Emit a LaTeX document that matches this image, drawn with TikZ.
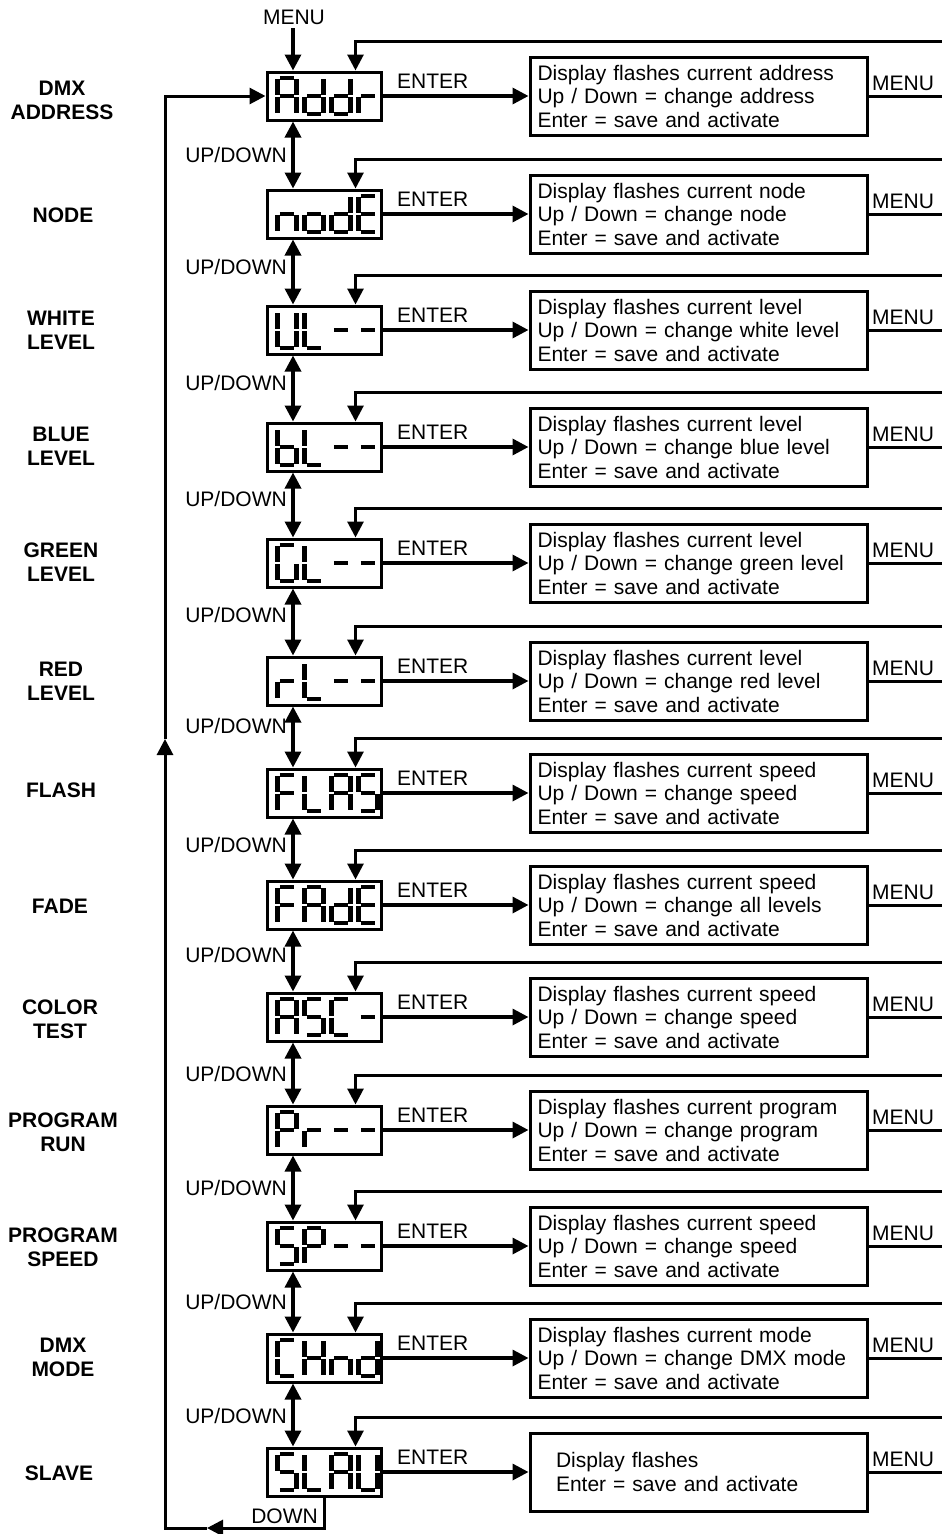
\documentclass[tikz,border=0pt]{standalone}
\usepackage{fontspec}
\setmainfont{Liberation Sans}
\usetikzlibrary{arrows.meta,calc}
\tikzset{
  arr/.style={line width=3.4pt,-{Triangle[length=16pt,width=16pt]}},
  dblarr/.style={line width=3.4pt,{Triangle[length=16pt,width=16pt]}-{Triangle[length=16pt,width=16pt]}},
  thinarr/.style={line width=3pt,-{Triangle[length=16pt,width=16pt]}},
  wire/.style={line width=3pt},
  disp/.style={draw,line width=3pt,minimum width=114pt,minimum height=48pt,inner sep=0pt},
  info/.style={draw,line width=3pt,minimum height=78pt,text width=322pt,inner xsep=7.5pt,align=left,font=\fontsize{21}{23.5}\selectfont},
  infob/.style={draw,line width=3pt,minimum height=78pt,text width=285pt,inner xsep=26pt,align=left,font=\fontsize{21}{23.5}\selectfont},
  lbl/.style={font=\fontsize{21}{24}\selectfont,inner sep=0pt},
  side/.style={font=\fontsize{21}{24}\selectfont\bfseries,inner sep=0pt,align=center},
  lcd/.style={line width=4.2pt,line cap=butt},
}
\def\lcdsega{(2.4,0) -- (16.6,0)}
\def\lcdsegb{(19,1.2) -- (19,17.2)}
\def\lcdsegc{(19,18.8) -- (19,34.8)}
\def\lcdsegd{(2.4,36) -- (16.6,36)}
\def\lcdsege{(0,18.8) -- (0,34.8)}
\def\lcdsegf{(0,1.2) -- (0,17.2)}
\def\lcdsegg{(2.4,18) -- (16.6,18)}
\newcommand\lcdchar[3]{%
  \foreach \s in {#3}{\draw[lcd,shift={($(#1.north west)+(12+27*#2,7.5)$)}] \csname lcdseg\s\endcsname;}}
\newcommand\lcdword[5]{\lcdchar{#1}{0}{#2}\lcdchar{#1}{1}{#3}\lcdchar{#1}{2}{#4}\lcdchar{#1}{3}{#5}}
\newcommand\menurow[4]{%
  \node[disp] (d#1) at (324,#2) {};
  \node[#3] (i#1) at (698.5,#2) {#4};
  \draw[arr] (d#1.east) -- (d#1.east -| i#1.west);
  \node[lbl,anchor=base west] (e#1) at (397,#2-8) {ENTER};
  \coordinate (ret#1) at (942,#2-55);
  \draw[thinarr] (ret#1) -| ([xshift=90pt]d#1.north west);
  \coordinate (me#1) at (942,#2);
  \draw[wire] (i#1.east) -- (me#1);
  \node[lbl,anchor=base west] (m#1) at (872,#2-6) {MENU};
}
\begin{document}
\begin{tikzpicture}[x=1pt,y=-1pt]
\useasboundingbox (0,0) rectangle (942,1534);
\coordinate (mx) at (293,0);
\coordinate (dx) at (324,0);

\menurow{1}{96}{info}{Display flashes current address\\Up / Down = change address\\Enter = save and activate}
\menurow{2}{214}{info}{Display flashes current node\\Up / Down = change node\\Enter = save and activate}
\menurow{3}{330}{info}{Display flashes current level\\Up / Down = change white level\\Enter = save and activate}
\menurow{4}{447}{info}{Display flashes current level\\Up / Down = change blue level\\Enter = save and activate}
\menurow{5}{563}{info}{Display flashes current level\\Up / Down = change green level\\Enter = save and activate}
\menurow{6}{681}{info}{Display flashes current level\\Up / Down = change red level\\Enter = save and activate}
\menurow{7}{793}{info}{Display flashes current speed\\Up / Down = change speed\\Enter = save and activate}
\menurow{8}{905}{info}{Display flashes current speed\\Up / Down = change all levels\\Enter = save and activate}
\menurow{9}{1017}{info}{Display flashes current speed\\Up / Down = change speed\\Enter = save and activate}
\menurow{10}{1130}{info}{Display flashes current program\\Up / Down = change program\\Enter = save and activate}
\menurow{11}{1246}{info}{Display flashes current speed\\Up / Down = change speed\\Enter = save and activate}
\menurow{12}{1358}{info}{Display flashes current mode\\Up / Down = change DMX mode\\Enter = save and activate}
\menurow{13}{1472}{infob}{Display flashes\\Enter = save and activate}

% LCD glyphs
\lcdword{d1}{a,b,c,e,f,g}{b,c,d,e,g}{b,c,d,e,g}{e,g}
\lcdword{d2}{c,e,g}{c,d,e,g}{b,c,d,e,g}{a,d,e,f,g}
\lcdword{d3}{b,c,d,e,f}{d,e,f}{g}{g}
\lcdword{d4}{c,d,e,f,g}{d,e,f}{g}{g}
\lcdword{d5}{a,c,d,e,f}{d,e,f}{g}{g}
\lcdword{d6}{e,g}{d,e,f}{g}{g}
\lcdword{d7}{a,e,f,g}{d,e,f}{a,b,c,e,f,g}{a,c,d,f,g}
\lcdword{d8}{a,e,f,g}{a,b,c,e,f,g}{b,c,d,e,g}{a,d,e,f,g}
\lcdword{d9}{a,b,c,e,f,g}{a,c,d,f,g}{a,d,e,f}{g}
\lcdword{d10}{a,b,e,f,g}{e,g}{g}{g}
\lcdword{d11}{a,c,d,f,g}{a,b,e,f,g}{g}{g}
\lcdword{d12}{a,d,e,f}{b,c,e,f,g}{c,e,g}{b,c,d,e,g}
\lcdword{d13}{a,c,d,f,g}{d,e,f}{a,b,c,e,f,g}{b,c,d,e,f}

% top MENU
\node[lbl,inner ysep=4pt,anchor=base] (mtop) at (294,24) {MENU};
\draw[arr] (mtop.south -| mx) -- (d1.north -| mx);

% UP/DOWN connectors
\foreach \a/\b/\y in {1/2/155,2/3/267,3/4/383,4/5/499,5/6/615,6/7/726,7/8/845,8/9/955,9/10/1074,10/11/1188,11/12/1302,12/13/1416}{
  \draw[dblarr] (d\a.south -| mx) -- (d\b.north -| mx);
  \node[lbl,anchor=base east] (u\a) at (287,\y+7.5) {UP/DOWN};
}

% DOWN loop
\coordinate (lpA) at (207,1528);
\coordinate (lpC) at (165,739);
\draw[thinarr] (d13.south -| dx) |- (lpA);
\draw[thinarr] (lpA) -| (lpC);
\draw[thinarr] (lpC) |- (d1.west);
\node[lbl,anchor=base east] (dn) at (318,1523) {DOWN};

% side labels
\node[side] (s1) at (62,100) {DMX\\ADDRESS};
\node[side] (s2) at (63,215) {NODE};
\node[side] (s3) at (61,330) {WHITE\\LEVEL};
\node[side] (s4) at (61,446) {BLUE\\LEVEL};
\node[side] (s5) at (61,562) {GREEN\\LEVEL};
\node[side] (s6) at (61,681) {RED\\LEVEL};
\node[side] (s7) at (61,790) {FLASH};
\node[side] (s8) at (60,906) {FADE};
\node[side] (s9) at (60,1019) {COLOR\\TEST};
\node[side] (s10) at (63,1132) {PROGRAM\\RUN};
\node[side] (s11) at (63,1247) {PROGRAM\\SPEED};
\node[side] (s12) at (63,1357) {DMX\\MODE};
\node[side] (s13) at (59,1473) {SLAVE};
\end{tikzpicture}
\end{document}
